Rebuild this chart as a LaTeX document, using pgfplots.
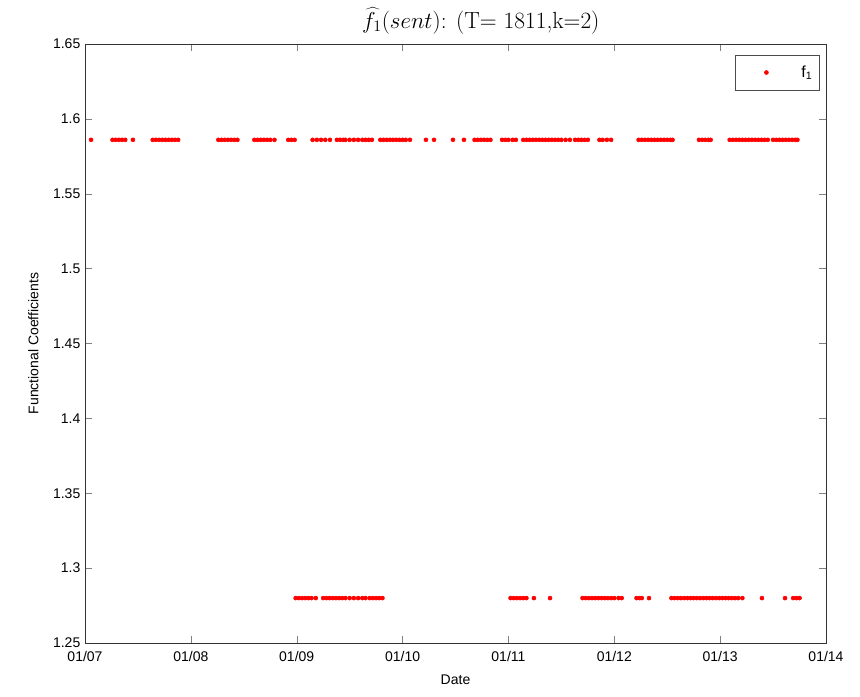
\documentclass[border=0pt]{standalone}
\usepackage{fontspec}
\setsansfont{Liberation Sans}
\usepackage{pgfplots}
\pgfplotsset{compat=1.18}
\usetikzlibrary{calc}
\begin{document}
\begin{tikzpicture}
\begin{axis}[
  name=ax,
  scale only axis,
  width=555.75pt, height=449.25pt,
  xmin=2007, xmax=2014, ymin=1.25, ymax=1.65,
  xtick={2007,2008,2009,2010,2011,2012,2013,2014},
  xticklabels={01/07,01/08,01/09,01/10,01/11,01/12,01/13,01/14},
  ytick={1.25,1.3,1.35,1.4,1.45,1.5,1.55,1.6,1.65},
  /pgf/number format/assume math mode=true,
  /pgf/number format/precision=2,
  ticklabel style={font=\sffamily\fontsize{10.5}{12}\selectfont},
  xticklabel style={yshift=-3pt},
  label style={font=\sffamily\fontsize{10.5}{12}\selectfont},
  xlabel={Date}, ylabel={Functional Coefficients},
  xlabel style={yshift=-3pt},
  ylabel style={yshift=4pt},
  title={$\widehat{f}_1(sent)$: (T= 1811,k=2)},
  title style={font=\fontsize{17.5}{19}\selectfont, yshift=-2pt, xshift=19pt},
  tick align=inside, major tick length=5pt,
  axis line style={black!80},
  legend style={at={(0.991,0.982)}, anchor=north east, draw=black!70,
    font=\sffamily\fontsize{12}{14}\selectfont, inner xsep=3pt, inner ysep=6pt},
  legend cell align=left,
  legend image code/.code={\path (0pt,0pt) (44pt,0pt); \draw[#1,only marks] plot coordinates {(20pt,0pt)};},
]
\addplot[only marks, mark=*, mark size=1.5pt, color=red] coordinates {
(2007.057,1.586)
(2007.26,1.586)(2007.29,1.586)(2007.32,1.586)(2007.35,1.586)(2007.38,1.586)
(2007.453,1.586)
(2007.64,1.586)(2007.67,1.586)(2007.70,1.586)(2007.73,1.586)(2007.76,1.586)(2007.79,1.586)(2007.82,1.586)(2007.85,1.586)(2007.88,1.586)
(2008.26,1.586)(2008.29,1.586)(2008.32,1.586)(2008.35,1.586)(2008.38,1.586)(2008.41,1.586)(2008.44,1.586)
(2008.60,1.586)(2008.63,1.586)(2008.66,1.586)(2008.69,1.586)(2008.72,1.586)(2008.75,1.586)(2008.79,1.586)
(2008.92,1.586)(2008.95,1.586)(2008.98,1.586)
(2009.15,1.586)(2009.19,1.586)(2009.23,1.586)(2009.27,1.586)
(2009.314,1.586)
(2009.38,1.586)(2009.41,1.586)(2009.44,1.586)
(2009.46,1.586)(2009.50,1.586)(2009.54,1.586)(2009.58,1.586)(2009.62,1.586)
(2009.65,1.586)(2009.68,1.586)(2009.71,1.586)
(2009.79,1.586)(2009.82,1.586)(2009.85,1.586)(2009.88,1.586)(2009.91,1.586)(2009.94,1.586)(2009.97,1.586)(2010.00,1.586)(2010.03,1.586)(2010.07,1.586)
(2010.221,1.586)(2010.297,1.586)(2010.476,1.586)(2010.580,1.586)
(2010.68,1.586)(2010.71,1.586)(2010.74,1.586)(2010.77,1.586)(2010.80,1.586)(2010.83,1.586)
(2010.94,1.586)(2010.97,1.586)(2011.00,1.586)(2011.04,1.586)(2011.07,1.586)
(2011.14,1.586)(2011.17,1.586)(2011.20,1.586)(2011.23,1.586)(2011.26,1.586)(2011.29,1.586)(2011.32,1.586)(2011.35,1.586)(2011.38,1.586)(2011.41,1.586)(2011.44,1.586)(2011.47,1.586)(2011.50,1.586)(2011.54,1.586)(2011.58,1.586)
(2011.63,1.586)(2011.66,1.586)(2011.69,1.586)(2011.72,1.586)(2011.75,1.586)
(2011.86,1.586)(2011.89,1.586)(2011.93,1.586)(2011.97,1.586)
(2012.23,1.586)(2012.26,1.586)(2012.29,1.586)(2012.32,1.586)(2012.35,1.586)(2012.38,1.586)(2012.41,1.586)(2012.44,1.586)(2012.47,1.586)(2012.50,1.586)(2012.53,1.586)(2012.55,1.586)
(2012.80,1.586)(2012.83,1.586)(2012.86,1.586)(2012.89,1.586)(2012.91,1.586)
(2013.09,1.586)(2013.12,1.586)(2013.15,1.586)(2013.18,1.586)(2013.21,1.586)(2013.24,1.586)(2013.27,1.586)(2013.30,1.586)(2013.33,1.586)(2013.36,1.586)(2013.39,1.586)(2013.42,1.586)(2013.45,1.586)
(2013.50,1.586)(2013.53,1.586)(2013.56,1.586)(2013.59,1.586)(2013.62,1.586)(2013.65,1.586)(2013.68,1.586)(2013.71,1.586)(2013.73,1.586)
(2008.99,1.28)(2009.02,1.28)(2009.05,1.28)(2009.08,1.28)(2009.11,1.28)(2009.14,1.28)(2009.18,1.28)
(2009.25,1.28)(2009.28,1.28)(2009.31,1.28)(2009.34,1.28)(2009.37,1.28)(2009.40,1.28)(2009.43,1.28)(2009.46,1.28)(2009.50,1.28)(2009.54,1.28)(2009.58,1.28)(2009.62,1.28)(2009.65,1.28)
(2009.69,1.28)(2009.72,1.28)(2009.75,1.28)(2009.78,1.28)(2009.81,1.28)
(2011.02,1.28)(2011.05,1.28)(2011.08,1.28)(2011.11,1.28)(2011.14,1.28)(2011.17,1.28)
(2011.241,1.28)(2011.393,1.28)
(2011.70,1.28)(2011.73,1.28)(2011.76,1.28)(2011.79,1.28)(2011.82,1.28)(2011.85,1.28)(2011.88,1.28)(2011.91,1.28)(2011.94,1.28)(2011.97,1.28)(2012.00,1.28)(2012.04,1.28)(2012.07,1.28)
(2012.21,1.28)(2012.24,1.28)(2012.26,1.28)
(2012.328,1.28)
(2012.54,1.28)(2012.57,1.28)(2012.60,1.28)(2012.63,1.28)(2012.66,1.28)(2012.69,1.28)(2012.72,1.28)(2012.75,1.28)(2012.78,1.28)(2012.81,1.28)(2012.84,1.28)(2012.87,1.28)(2012.90,1.28)(2012.93,1.28)(2012.96,1.28)(2012.99,1.28)(2013.02,1.28)(2013.05,1.28)(2013.08,1.28)(2013.11,1.28)(2013.14,1.28)(2013.17,1.28)(2013.21,1.28)
(2013.395,1.28)(2013.613,1.28)
(2013.69,1.28)(2013.72,1.28)(2013.75,1.28)
};
\addlegendentry{f\textsubscript{1}}
\end{axis}
\path[use as bounding box] ($(ax.south west)+(-63.75pt,-39.75pt)$) rectangle ($(ax.north east)+(25.5pt,33pt)$);
\end{tikzpicture}
\end{document}
